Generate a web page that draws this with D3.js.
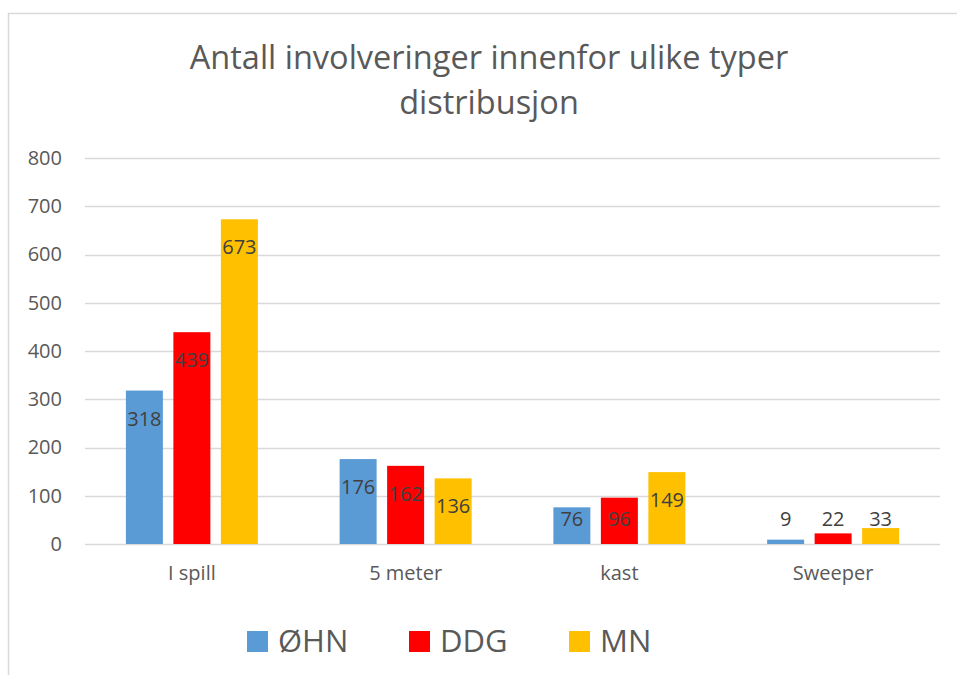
<!DOCTYPE html>
<html>
<head>
<meta charset="utf-8">
<script src="https://cdn.jsdelivr.net/npm/d3@7"></script>
<style>
  html, body { margin: 0; padding: 0; background: #fff; }
  svg { display: block; font-family: "Open Sans", "Noto Sans", sans-serif; }
</style>
</head>
<body>
<svg id="chart" width="957" height="675"></svg>
<script>
const titleLines = ["Antall involveringer innenfor ulike typer", "distribusjon"];
const categories = ["I spill", "5 meter", "kast", "Sweeper"];
const seriesNames = ["ØHN", "DDG", "MN"];
const seriesColors = ["#5B9BD5", "#FF0000", "#FFC000"];
const valuesOHN = [318, 176, 76, 9];
const valuesDDG = [439, 162, 96, 22];
const valuesMN  = [673, 136, 149, 33];
const yTicks = [0, 100, 200, 300, 400, 500, 600, 700, 800];

const seriesValues = [valuesOHN, valuesDDG, valuesMN];

const svg = d3.select("#chart");

// chart frame
svg.append("rect")
  .attr("x", 8.5).attr("y", 13.5)
  .attr("width", 1000).attr("height", 1000)
  .attr("fill", "none").attr("stroke", "#d9d9d9").attr("stroke-width", 1.5);

// title
const title = svg.append("text")
  .attr("text-anchor", "middle")
  .attr("fill", "#595959")
  .style("font-size", "32.5px");
title.selectAll("tspan").data(titleLines).join("tspan")
  .attr("x", 489).attr("y", (d, i) => 69 + i * 45)
  .text(d => d);

const plotLeft = 85, plotRight = 940, plotTop = 158, plotBottom = 544;

const y = d3.scaleLinear().domain([0, 800]).range([plotBottom, plotTop]);
const x0 = d3.scaleBand().domain(categories).range([plotLeft, plotRight]).padding(0);
const groupW = 132;
const x1 = d3.scaleBand().domain(seriesNames).range([0, groupW]).paddingInner(0.221).paddingOuter(0);

// gridlines
svg.append("g").selectAll("line").data(yTicks).join("line")
  .attr("x1", plotLeft).attr("x2", plotRight)
  .attr("y1", d => Math.round(y(d)) + 0.5).attr("y2", d => Math.round(y(d)) + 0.5)
  .attr("stroke", "#d9d9d9").attr("stroke-width", 1.3);

// y axis labels
const yAxis = d3.axisLeft(y).tickValues(yTicks).tickSize(0).tickPadding(23);
const gy = svg.append("g").attr("transform", `translate(${plotLeft},0)`).call(yAxis);
gy.select(".domain").remove();
gy.selectAll("text")
  .attr("fill", "#595959")
  .style("font-size", "20px")
  .style("font-family", "'Open Sans', sans-serif");

// category labels
const xAxis = d3.axisBottom(x0).tickSize(0).tickPadding(22);
const gx = svg.append("g").attr("transform", `translate(0,${plotBottom})`).call(xAxis);
gx.select(".domain").remove();
gx.selectAll("text")
  .attr("fill", "#595959")
  .style("font-size", "20px")
  .style("font-family", "'Open Sans', sans-serif");

// bars
const offset = (x0.bandwidth() - groupW) / 2;
const groups = svg.append("g").selectAll("g").data(categories).join("g")
  .attr("transform", c => `translate(${x0(c) + offset},0)`);

const cells = groups.selectAll("g.cell")
  .data((c, ci) => seriesNames.map((s, si) => ({ s, si, v: seriesValues[si][ci] })))
  .join("g").attr("class", "cell");

cells.append("rect")
  .attr("x", d => x1(d.s))
  .attr("width", x1.bandwidth())
  .attr("y", d => y(d.v))
  .attr("height", d => y(0) - y(d.v))
  .attr("fill", d => seriesColors[d.si]);

cells.append("text")
  .attr("x", d => x1(d.s) + x1.bandwidth() / 2)
  .attr("y", d => Math.min(y(d.v) + 35, y(0) - 18))
  .attr("text-anchor", "middle")
  .attr("fill", "#404040")
  .style("font-size", "20px")
  .text(d => d.v);

// legend
const legendX = [247, 409, 569];
const lg = svg.append("g").selectAll("g").data(seriesNames).join("g")
  .attr("transform", (d, i) => `translate(${legendX[i]},631)`);
lg.append("rect").attr("width", 21).attr("height", 21)
  .attr("fill", (d, i) => seriesColors[i]);
lg.append("text").attr("x", 31).attr("y", 21)
  .attr("fill", "#595959")
  .style("font-size", "31px")
  .text(d => d);
</script>
</body>
</html>
